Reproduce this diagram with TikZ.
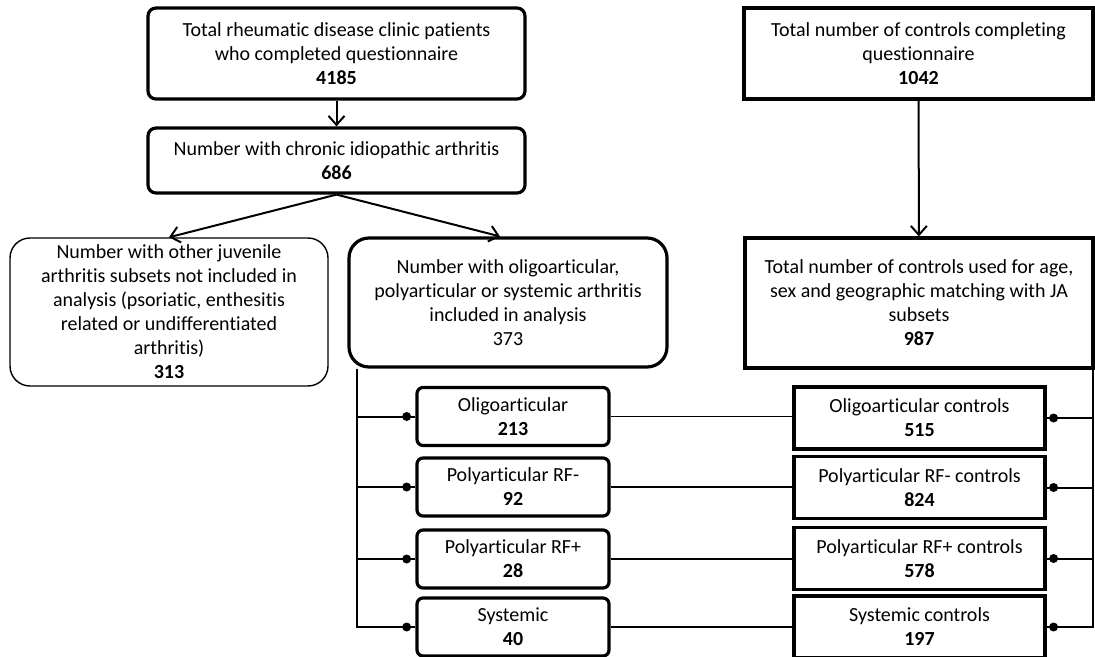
\documentclass[tikz,border=0pt]{standalone}
\usepackage{fontspec}
\setmainfont{Carlito}[Ligatures=NoCommon]
\usetikzlibrary{arrows.meta}

\begin{document}
\begin{tikzpicture}[x=0.5pt,y=-0.5pt,
  font=\fontsize{10}{12}\selectfont,
  >={Straight Barb[length=4.5pt,width=8pt]},
  rbox/.style={draw,line width=1.6pt,rounded corners=4pt,align=center,inner sep=0pt},
  sbox/.style={draw,line width=1.6pt,align=center,inner sep=0pt},
  obox/.style={draw,line width=0.7pt,rounded corners=10pt,align=center,inner sep=0pt},
  subl/.style={rbox,rounded corners=3pt,minimum width=96pt,minimum height=29pt},
  subr/.style={sbox,minimum width=125.5pt,minimum height=31pt},
  link/.style={line width=1pt},
  thinlink/.style={line width=0.6pt},
  dot/.style={circle,fill,inner sep=0pt,minimum size=4.5pt}]

\useasboundingbox (0,0) rectangle (1095,657);

% Patients
\node[rbox,minimum width=188.5pt,minimum height=45.5pt] (total) at (336.5,53.5)
  {Total rheumatic disease clinic patients\\who completed questionnaire\\\textbf{4185}};
\node[rbox,minimum width=188.5pt,minimum height=32.5pt] (cia) at (336.5,160.5)
  {Number with chronic idiopathic arthritis\\\textbf{686}};
\node[obox,minimum width=159pt,minimum height=74pt] (other) at (169,312)
  {Number with other juvenile\\arthritis subsets not included in\\analysis (psoriatic, enthesitis\\related or undifferentiated\\arthritis)\\\textbf{313}};
\node[rbox,rounded corners=10pt,minimum width=159pt,minimum height=64.5pt] (incl) at (508,302.5)
  {Number with oligoarticular,\\polyarticular or systemic arthritis\\included in analysis\\373};

% Controls
\node[sbox,minimum width=174.5pt,minimum height=45.5pt] (ctot) at (918.5,53.5)
  {Total number of controls completing\\questionnaire\\\textbf{1042}};
\node[sbox,minimum width=174pt,minimum height=65pt] (cused) at (919,303)
  {Total number of controls used for age,\\sex and geographic matching with JA\\subsets\\\textbf{987}};

% Subsets
\node[subl] (oligo) at (513,416.5) {Oligoarticular\\\textbf{213}};
\node[subl] (polyneg) at (513,487) {Polyarticular RF-\\\textbf{92}};
\node[subl] (polypos) at (513,559) {Polyarticular RF+\\\textbf{28}};
\node[subl] (sys) at (513,627) {Systemic\\\textbf{40}};

\node[subr] (coligo) at (919.5,418) {Oligoarticular controls\\\textbf{515}};
\node[subr] (cpolyneg) at (919.5,487.5) {Polyarticular RF- controls\\\textbf{824}};
\node[subr] (cpolypos) at (919.5,558.5) {Polyarticular RF+ controls\\\textbf{578}};
\node[subr] (csys) at (919.5,627) {Systemic controls\\\textbf{197}};

% Arrows
\draw[->,link] (total) -- (cia);
\draw[->,link] (cia.south) -- (other.north);
\draw[->,link] (cia.south) -- ([xshift=-4pt]incl.north);
\draw[->,link] (ctot) -- (cused);

% Left bus
\coordinate (lbus) at (357,627);
\draw[link] (lbus |- incl.south) -- (lbus |- sys.west) -- (sys.west) node[dot,pos=0.85] {};
\draw[link] (lbus |- oligo.west) -- (oligo.west) node[dot,pos=0.85] {};
\draw[link] (lbus |- polyneg.west) -- (polyneg.west) node[dot,pos=0.85] {};
\draw[link] (lbus |- polypos.west) -- (polypos.west) node[dot,pos=0.85] {};

% Right bus
\coordinate (rbus) at (1093,627);
\draw[link] (rbus |- cused.south) -- (rbus |- csys.east) -- (csys.east) node[dot,pos=0.85] {};
\draw[link] (coligo.east) -- (rbus |- coligo.east) node[dot,pos=0.15] {};
\draw[link] (cpolyneg.east) -- (rbus |- cpolyneg.east) node[dot,pos=0.15] {};
\draw[link] (cpolypos.east) -- (rbus |- cpolypos.east) node[dot,pos=0.15] {};

% Matching lines
\draw[thinlink] (oligo.east) -- (oligo.east -| coligo.west);
\draw[thinlink] (polyneg.east) -- (polyneg.east -| cpolyneg.west);
\draw[thinlink] (polypos.east) -- (polypos.east -| cpolypos.west);
\draw[thinlink] (sys.east) -- (sys.east -| csys.west);

\end{tikzpicture}
\end{document}
